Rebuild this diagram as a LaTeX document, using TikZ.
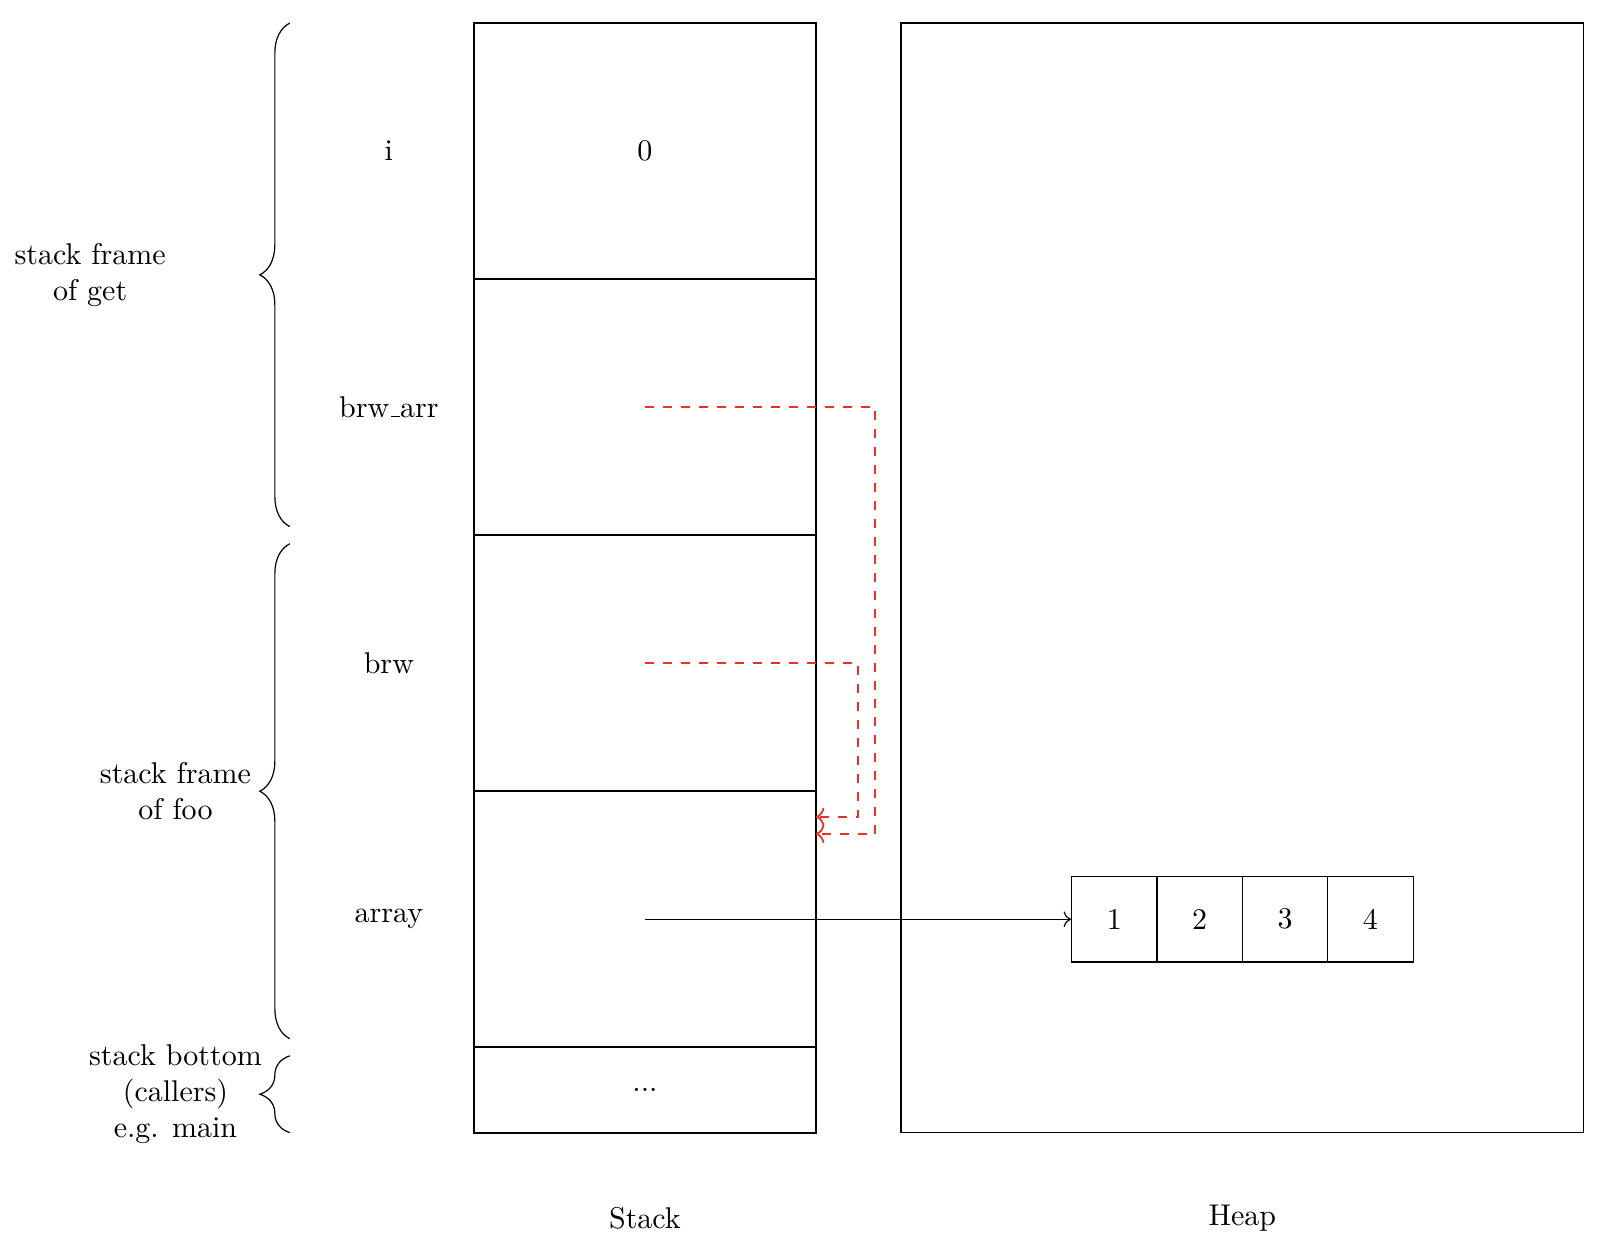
\documentclass[tikz,border=0pt]{standalone}
\usepackage{tikz}
\usetikzlibrary{arrows.meta,positioning,calc,decorations.pathreplacing}
\definecolor{refred}{RGB}{232,50,38}
\newcommand{\us}{\kern.06em\vbox{\hrule width.3em}}

\tikzset{
  cell/.style={draw, semithick, minimum width=4cm, minimum height=3cm, inner sep=0pt},
  hcell/.style={draw, thin, minimum size=1cm, inner sep=0pt},
  ref/.style={refred, semithick, dashed, ->},
  frame/.style={decorate, decoration={brace, amplitude=10pt}},
}

\begin{document}
\begin{tikzpicture}
    \useasboundingbox (-5.556,-1.488) rectangle (13.26,13.27);

    % stack cells
    \node[cell] (s1) at (2,11.5) {0};
    \node[cell] (s2) at (2,8.5) {};
    \node[cell] (s3) at (2,5.5) {};
    \node[cell] (s4) at (2,2.5) {};
    \node[cell, minimum height=1cm] (s5) at (2,0.5) {...};

    % variable names
    \node (vi) at (-1,11.5) {i};
    \node (vbrwarr) at (-1,8.5) {brw\us arr};
    \node (vbrw) at (-1,5.5) {brw};
    \node (varray) at (-1,2.5) {array};

    % heap
    \draw[thin] (5,0) rectangle (13,13);
    \node[hcell] (h1) at (7.5,2.5) {1};
    \node[hcell] (h2) at (8.5,2.5) {2};
    \node[hcell] (h3) at (9.5,2.5) {3};
    \node[hcell] (h4) at (10.5,2.5) {4};

    % pointers
    \coordinate (t1) at (4,3.5);
    \coordinate (t2) at (4,3.7);
    \draw[ref] (s2.center) -- ++(2.7,0) |- (t1);
    \draw[ref] (s3.center) -- ++(2.5,0) |- (t2);
    \draw[->] (s4.center) -- (h1.west);

    % stack frames
    \draw[frame] (-2.16,7.1) -- (-2.16,13);
    \draw[frame] (-2.16,1.1) -- (-2.16,6.9);
    \draw[frame] (-2.16,0) -- (-2.16,0.9);
    \node[align=center] (fget) at (-4.5,10.05) {stack frame\\of get};
    \node[align=center] (ffoo) at (-3.5,4) {stack frame\\of foo};
    \node[align=center] (fmain) at (-3.5,0.45) {stack bottom\\(callers)\\e.g. main};

    % captions
    \node (lstack) at (2,-1) {Stack};
    \node (lheap) at (9,-1) {Heap};
\end{tikzpicture}
\end{document}
